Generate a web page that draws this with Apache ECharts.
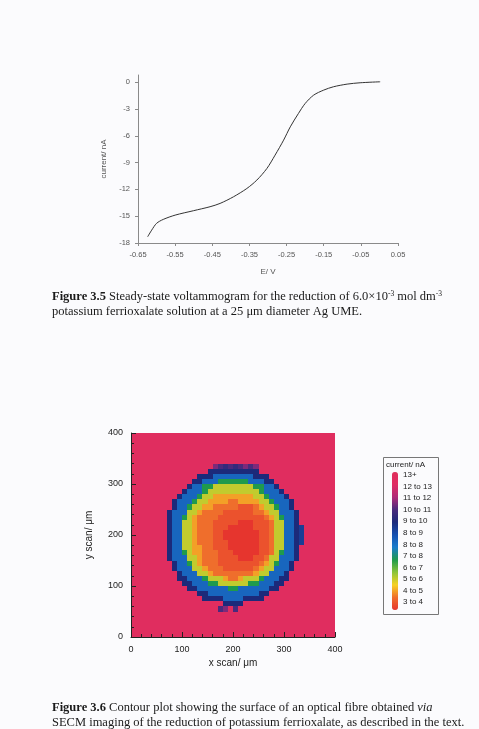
<!DOCTYPE html>
<html>
<head>
<meta charset="utf-8">
<script src="https://cdn.jsdelivr.net/npm/echarts@6/dist/echarts.min.js"></script>
<style>
  html, body { margin: 0; padding: 0; background: #fbfbfd; }
  #chart { width: 479px; height: 729px; }
</style>
</head>
<body>
<div id="chart"></div>
<script>
// Fig 3.5 – steady-state voltammogram
const potential = [-0.624, -0.613, -0.600, -0.582, -0.550, -0.501, -0.456, -0.429, -0.393, -0.357, -0.330, -0.303,
  -0.281, -0.258, -0.240, -0.218, -0.200, -0.177, -0.150, -0.124, -0.087, -0.052, 0.002]
const current = [-17.3, -16.55, -15.8, -15.36, -14.88, -14.39, -13.94, -13.57, -12.83, -11.9, -10.96, -9.66,
  -8.17, -6.49, -5.0, -3.5, -2.39, -1.45, -0.89, -0.52, -0.22, -0.07, 0.04]
const potentialTicks = [-0.65, -0.55, -0.45, -0.35, -0.25, -0.15, -0.05, 0.05]
const currentTicks = [-18, -15, -12, -9, -6, -3, 0]

// Fig 3.6 – SECM map, 40 x 40 cells of 10 um, top row first
// one char per cell: '0' = 3.0 nA, each next code +0.5 nA, 'L' = 13.5 (13+)
const levelCodes = '0123456789ABCDEFGHIJKL'
const mapRows = [
  'LLLLLLLLLLLLLLLLLLLLLLLLLLLLLLLLLLLLLLLL',
  'LLLLLLLLLLLLLLLLLLLLLLLLLLLLLLLLLLLLLLLL',
  'LLLLLLLLLLLLLLLLLLLLLLLLLLLLLLLLLLLLLLLL',
  'LLLLLLLLLLLLLLLLLLLLLLLLLLLLLLLLLLLLLLLL',
  'LLLLLLLLLLLLLLLLLLLLLLLLLLLLLLLLLLLLLLLL',
  'LLLLLLLLLLLLLLLLLLLLLLLLLLLLLLLLLLLLLLLL',
  'LLLLLLLLLLLLLLLLHGFGFGHGHLLLLLLLLLLLLLLL',
  'LLLLLLLLLLLLLLLEEEEEEEEEELLLLLLLLLLLLLLL',
  'LLLLLLLLLLLLLEEEBBBBBBBBEEELLLLLLLLLLLLL',
  'LLLLLLLLLLLLEEBBB888888BBBEELLLLLLLLLLLL',
  'LLLLLLLLLLLEBB885555555588BBELLLLLLLLLLL',
  'LLLLLLLLLLEBBB855555555558BBBELLLLLLLLLL',
  'LLLLLLLLLEBBB85533333333558BBBELLLLLLLLL',
  'LLLLLLLLEBBB8553333223333558BBBELLLLLLLL',
  'LLLLLLLLEBB855332222211123558BBELLLLLLLL',
  'LLLLLLLEBBB553222211111122355BBBELLLLLLL',
  'LLLLLLLEBB85322221111111112358BBELLLLLLL',
  'LLLLLLLEBB55322211111000111255BBELLLLLLL',
  'LLLLLLLEBB55322211100000111255BBEDLLLLLL',
  'LLLLLLLEBB55322211000000011255BBEDLLLLLL',
  'LLLLLLLEBB55322211000000011255BBEDLLLLLL',
  'LLLLLLLEBB55322211100000011255BBEDLLLLLL',
  'LLLLLLLEBB55332211100000011255BBELLLLLLL',
  'LLLLLLLEBB85332221110000011258BBELLLLLLL',
  'LLLLLLLEBBB553222111100011255BBBELLLLLLL',
  'LLLLLLLLEBB853222111111112358BBELLLLLLLL',
  'LLLLLLLLEBBB5532221111112355BBBELLLLLLLL',
  'LLLLLLLLLEBBB55322222222355BBBELLLLLLLLL',
  'LLLLLLLLLEEBBB855532235558BBBEELLLLLLLLL',
  'LLLLLLLLLLEEBBB8855555588BBBEELLLLLLLLLL',
  'LLLLLLLLLLLEEBBBBBB88BBBBBBEELLLLLLLLLLL',
  'LLLLLLLLLLLLLEEBBBBBBBBBBEELLLLLLLLLLLLL',
  'LLLLLLLLLLLLLLEEEEBBBBEEEELLLLLLLLLLLLLL',
  'LLLLLLLLLLLLLLLLLLEEEELLLLLLLLLLLLLLLLLL',
  'LLLLLLLLLLLLLLLLLGHLGLLLLLLLLLLLLLLLLLLL',
  'LLLLLLLLLLLLLLLLLLLLLLLLLLLLLLLLLLLLLLLL',
  'LLLLLLLLLLLLLLLLLLLLLLLLLLLLLLLLLLLLLLLL',
  'LLLLLLLLLLLLLLLLLLLLLLLLLLLLLLLLLLLLLLLL',
  'LLLLLLLLLLLLLLLLLLLLLLLLLLLLLLLLLLLLLLLL',
  'LLLLLLLLLLLLLLLLLLLLLLLLLLLLLLLLLLLLLLLL'
]
const scanTicks = [0, 100, 200, 300, 400]
const legendLabels = ['13+', '12 to 13', '11 to 12', '10 to 11', '9 to 10', '8 to 9', '8 to 8', '7 to 8', '6 to 7', '5 to 6', '4 to 5', '3 to 4']

// colour stops for 3,4,...,14 nA
const levelColors = ['#e6352e', '#ef6e2c', '#f7d222', '#8cc43a', '#1f9a4c', '#1a7ccc', '#1650b0', '#1c2a7a',
  '#4a2a7c', '#b02a78', '#e02c64', '#e02e5a']

const heatData = []
mapRows.forEach((row, r) => {
  const yc = (mapRows.length - 1 - r) * 10 + 5
  for (let c = 0; c < row.length; c++) {
    heatData.push([c * 10 + 5, yc, 3 + levelCodes.indexOf(row[c]) * 0.5])
  }
})

const sans = 'Liberation Sans'
const serif = 'Liberation Serif'
const greyAxis = { color: '#8a8a8a', width: 1 }
const blackAxis = { color: '#222', width: 1 }

const chart = echarts.init(document.getElementById('chart'))

const captionRich = {
  b: { fontFamily: serif, fontSize: 12.5, fontWeight: 'bold', fill: '#1a1a1a' },
  sup: { fontFamily: serif, fontSize: 7.5, fill: '#1a1a1a', verticalAlign: 'top', padding: [0, 0, 6, 0] },
  i: { fontFamily: serif, fontSize: 12.5, fontStyle: 'italic', fill: '#1a1a1a' }
}

function captionLine(text, x, y) {
  return {
    type: 'text',
    x, y,
    silent: true,
    style: {
      text,
      fontFamily: serif,
      fontSize: 12.5,
      fill: '#1a1a1a',
      verticalAlign: 'middle',
      rich: captionRich
    }
  }
}

function renderCell(params, api) {
  const cx = api.value(0)
  const cy = api.value(1)
  const p0 = api.coord([cx - 5, cy + 5])
  const p1 = api.coord([cx + 5, cy - 5])
  const x0 = Math.round(p0[0])
  const y0 = Math.round(p0[1])
  return {
    type: 'rect',
    shape: { x: x0, y: y0, width: Math.round(p1[0]) - x0, height: Math.round(p1[1]) - y0 },
    style: { fill: api.visual('color') }
  }
}

chart.setOption({
  animation: false,
  backgroundColor: '#fbfbfd',
  grid: [
    { left: 138, top: 75, width: 260, height: 168 },
    { left: 131, top: 433, width: 204, height: 204 }
  ],
  xAxis: [
    {
      type: 'value',
      gridIndex: 0,
      min: -0.65,
      max: 0.05,
      name: 'E/ V',
      nameLocation: 'middle',
      nameGap: 25,
      nameTextStyle: { fontFamily: sans, fontSize: 8, color: '#555' },
      axisLine: { show: true, onZero: false, lineStyle: greyAxis },
      axisTick: { show: true, length: 3, lineStyle: greyAxis, customValues: potentialTicks },
      axisLabel: {
        fontFamily: sans, fontSize: 7.5, color: '#555', margin: 8,
        customValues: potentialTicks,
        formatter: (v) => v.toFixed(2)
      },
      splitLine: { show: false }
    },
    {
      type: 'value',
      gridIndex: 1,
      min: 0,
      max: 400,
      interval: 100,
      z: 10,
      name: 'x scan/ μm',
      nameLocation: 'middle',
      nameGap: 21,
      nameTextStyle: { fontFamily: sans, fontSize: 10, color: '#222' },
      axisLine: { show: true, onZero: false, lineStyle: blackAxis },
      axisTick: { show: true, inside: true, length: 5, lineStyle: blackAxis },
      minorTick: { show: true, splitNumber: 5, length: 3, lineStyle: blackAxis },
      axisLabel: { fontFamily: sans, fontSize: 9, color: '#222', margin: 8, customValues: scanTicks },
      splitLine: { show: false }
    }
  ],
  yAxis: [
    {
      type: 'value',
      gridIndex: 0,
      min: -18,
      max: 0.8,
      name: 'current/ nA',
      nameLocation: 'middle',
      nameGap: 21,
      nameTextStyle: { fontFamily: sans, fontSize: 8, color: '#555' },
      axisLine: { show: true, onZero: false, lineStyle: greyAxis },
      axisTick: { show: true, length: 3, lineStyle: greyAxis, customValues: currentTicks },
      axisLabel: { fontFamily: sans, fontSize: 7.5, color: '#555', margin: 8, customValues: currentTicks },
      splitLine: { show: false }
    },
    {
      type: 'value',
      gridIndex: 1,
      min: 0,
      max: 400,
      interval: 100,
      z: 10,
      name: 'y scan/ μm',
      nameLocation: 'middle',
      nameGap: 37,
      nameTextStyle: { fontFamily: sans, fontSize: 10, color: '#222' },
      axisLine: { show: true, onZero: false, lineStyle: blackAxis },
      axisTick: { show: true, inside: true, length: 5, lineStyle: blackAxis },
      minorTick: { show: true, splitNumber: 5, length: 3, lineStyle: blackAxis },
      axisLabel: { fontFamily: sans, fontSize: 9, color: '#222', margin: 8, customValues: scanTicks },
      splitLine: { show: false }
    }
  ],
  visualMap: {
    type: 'continuous',
    seriesIndex: 1,
    dimension: 2,
    min: 3,
    max: 14,
    calculable: false,
    hoverLink: false,
    left: 392,
    top: 472,
    padding: 0,
    itemWidth: 6,
    itemHeight: 138,
    inRange: { color: levelColors }
  },
  series: [
    {
      type: 'line',
      xAxisIndex: 0,
      yAxisIndex: 0,
      data: potential.map((e, i) => [e, current[i]]),
      smooth: 0.3,
      showSymbol: false,
      lineStyle: { color: '#333', width: 1 }
    },
    {
      type: 'custom',
      xAxisIndex: 1,
      yAxisIndex: 1,
      data: heatData,
      encode: { x: 0, y: 1 },
      renderItem: renderCell,
      silent: true
    }
  ],
  graphic: [
    {
      type: 'rect',
      silent: true,
      shape: { x: 383.5, y: 457.5, width: 55, height: 157 },
      style: { fill: 'none', stroke: '#777', lineWidth: 1 }
    },
    {
      type: 'text',
      x: 386, y: 465,
      silent: true,
      style: { text: 'current/ nA', fontFamily: sans, fontSize: 8, fill: '#222', verticalAlign: 'middle' }
    },
    ...legendLabels.map((t, k) => ({
      type: 'text',
      x: 403, y: 475 + k * 11.55,
      silent: true,
      style: { text: t, fontFamily: sans, fontSize: 8, fill: '#222', verticalAlign: 'middle' }
    })),
    captionLine('{b|Figure 3.5} Steady-state voltammogram for the reduction of 6.0×10{sup|-3} mol dm{sup|-3}', 52, 297),
    captionLine('potassium ferrioxalate solution at a 25 μm diameter Ag UME.', 52, 312),
    captionLine('{b|Figure 3.6} Contour plot showing the surface of an optical fibre obtained {i|via}', 52, 708),
    captionLine('SECM imaging of the reduction of potassium ferrioxalate, as described in the text.', 52, 723)
  ]
})
</script>
</body>
</html>
